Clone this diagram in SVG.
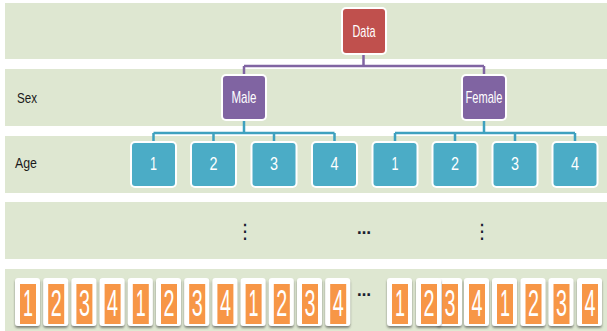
<svg xmlns="http://www.w3.org/2000/svg" width="607" height="331" viewBox="0 0 607 331">
<defs>
<style>
.band{fill:#DEE7D1}
.rowlbl{font-family:"Liberation Sans",Arial,sans-serif;font-size:14px;fill:#1a1a1a}
.lbl{font-family:"Liberation Sans",Arial,sans-serif;fill:#ffffff;text-anchor:middle}
.frame{fill:#ffffff}
.red{fill:#C0504D}
.purple{fill:#8064A2}
.teal{fill:#4BACC6}
.orange{fill:#F79646}
.conP{stroke:#8064A2;stroke-width:2.5;fill:none}
.conT{stroke:#3FA1BF;stroke-width:2.5;fill:none}
.dots{font-family:"DejaVu Sans","Liberation Sans",sans-serif;fill:#1a2030;text-anchor:middle}
.tnum{font-family:"Liberation Sans",Arial,sans-serif;font-size:36px;fill:#ffffff;text-anchor:middle}
</style>
<filter id="sh" x="-30%" y="-20%" width="160%" height="150%">
<feDropShadow dx="0" dy="2" stdDeviation="1" flood-color="#404040" flood-opacity="0.6"/>
</filter>
<g id="tile">
<rect x="0" y="0" width="25" height="48" rx="3" class="frame" filter="url(#sh)"/>
<rect x="5" y="6" width="16" height="40" class="orange"/>
</g>
</defs>

<g id="bands">
<rect class="band" x="5" y="3" width="602" height="56"/>
<rect class="band" x="5" y="69" width="602" height="57"/>
<rect class="band" x="5" y="136" width="602" height="57"/>
<rect class="band" x="5" y="202" width="602" height="57"/>
<rect class="band" x="5" y="269" width="602" height="62"/>
</g>

<g id="row-labels">
<text class="rowlbl" x="17" y="103" textLength="20" lengthAdjust="spacingAndGlyphs">Sex</text>
<text class="rowlbl" x="15" y="168" textLength="22" lengthAdjust="spacingAndGlyphs">Age</text>
</g>

<g id="connectors">
<path class="conP" d="M363.5,53V66M244,66H484M244,66V76M484,66V76"/>
<path class="conT" d="M244,119V133M153.5,133H334.5M153.5,133V141M213.5,133V141M274,133V141M334.5,133V141"/>
<path class="conT" d="M484,119V133M395,133H575M395,133V141M455,133V141M515,133V141M575,133V141"/>
</g>

<g id="node-data">
<rect class="frame" x="341" y="7" width="46" height="48" rx="5"/>
<rect class="red" x="343" y="9" width="42" height="44" rx="3"/>
<text class="lbl" x="364" y="37" font-size="17" textLength="23" lengthAdjust="spacingAndGlyphs">Data</text>
</g>
<g id="node-male">
<rect class="frame" x="221" y="74" width="46" height="47" rx="5"/>
<rect class="purple" x="223" y="76" width="42" height="43" rx="3"/>
<text class="lbl" x="244" y="103" font-size="17" textLength="25" lengthAdjust="spacingAndGlyphs">Male</text>
</g>
<g id="node-female">
<rect class="frame" x="461" y="74" width="46" height="47" rx="5"/>
<rect class="purple" x="463" y="76" width="42" height="43" rx="3"/>
<text class="lbl" x="484" y="103" font-size="17" textLength="37" lengthAdjust="spacingAndGlyphs">Female</text>
</g>

<g id="node-male-age1"><rect class="frame" x="130" y="141" width="47" height="47" rx="5"/><rect class="teal" x="132" y="143" width="43" height="43" rx="3"/><text class="lbl" x="153.5" y="170" font-size="18" textLength="7" lengthAdjust="spacingAndGlyphs">1</text></g>
<g id="node-male-age2"><rect class="frame" x="190" y="141" width="47" height="47" rx="5"/><rect class="teal" x="192" y="143" width="43" height="43" rx="3"/><text class="lbl" x="213.5" y="170" font-size="18" textLength="8" lengthAdjust="spacingAndGlyphs">2</text></g>
<g id="node-male-age3"><rect class="frame" x="250.5" y="141" width="47" height="47" rx="5"/><rect class="teal" x="252.5" y="143" width="43" height="43" rx="3"/><text class="lbl" x="274" y="170" font-size="18" textLength="8" lengthAdjust="spacingAndGlyphs">3</text></g>
<g id="node-male-age4"><rect class="frame" x="311" y="141" width="47" height="47" rx="5"/><rect class="teal" x="313" y="143" width="43" height="43" rx="3"/><text class="lbl" x="334.5" y="170" font-size="18" textLength="8" lengthAdjust="spacingAndGlyphs">4</text></g>
<g id="node-female-age1"><rect class="frame" x="371.5" y="141" width="47" height="47" rx="5"/><rect class="teal" x="373.5" y="143" width="43" height="43" rx="3"/><text class="lbl" x="395" y="170" font-size="18" textLength="7" lengthAdjust="spacingAndGlyphs">1</text></g>
<g id="node-female-age2"><rect class="frame" x="431.5" y="141" width="47" height="47" rx="5"/><rect class="teal" x="433.5" y="143" width="43" height="43" rx="3"/><text class="lbl" x="455" y="170" font-size="18" textLength="8" lengthAdjust="spacingAndGlyphs">2</text></g>
<g id="node-female-age3"><rect class="frame" x="491.5" y="141" width="47" height="47" rx="5"/><rect class="teal" x="493.5" y="143" width="43" height="43" rx="3"/><text class="lbl" x="515" y="170" font-size="18" textLength="8" lengthAdjust="spacingAndGlyphs">3</text></g>
<g id="node-female-age4"><rect class="frame" x="551.5" y="141" width="47" height="47" rx="5"/><rect class="teal" x="553.5" y="143" width="43" height="43" rx="3"/><text class="lbl" x="575" y="170" font-size="18" textLength="8" lengthAdjust="spacingAndGlyphs">4</text></g>

<g id="ellipses">
<text class="dots" x="245" y="238" font-size="20">⋮</text>
<text class="dots" x="364" y="234" font-size="14" font-weight="bold">…</text>
<text class="dots" x="482" y="238" font-size="20">⋮</text>
<text class="dots" x="364" y="296" font-size="14" font-weight="bold">…</text>
</g>

<g id="tiles">
<g id="t1"><use href="#tile" x="15" y="278"/><text class="tnum" x="28" y="316" textLength="10" lengthAdjust="spacingAndGlyphs">1</text></g>
<g id="t2"><use href="#tile" x="43.2" y="278"/><text class="tnum" x="56.2" y="316" textLength="11" lengthAdjust="spacingAndGlyphs">2</text></g>
<g id="t3"><use href="#tile" x="71.4" y="278"/><text class="tnum" x="84.4" y="316" textLength="11" lengthAdjust="spacingAndGlyphs">3</text></g>
<g id="t4"><use href="#tile" x="99.6" y="278"/><text class="tnum" x="112.6" y="316" textLength="11" lengthAdjust="spacingAndGlyphs">4</text></g>
<g id="t5"><use href="#tile" x="127.8" y="278"/><text class="tnum" x="140.8" y="316" textLength="10" lengthAdjust="spacingAndGlyphs">1</text></g>
<g id="t6"><use href="#tile" x="156" y="278"/><text class="tnum" x="169" y="316" textLength="11" lengthAdjust="spacingAndGlyphs">2</text></g>
<g id="t7"><use href="#tile" x="184.2" y="278"/><text class="tnum" x="197.2" y="316" textLength="11" lengthAdjust="spacingAndGlyphs">3</text></g>
<g id="t8"><use href="#tile" x="212.4" y="278"/><text class="tnum" x="225.4" y="316" textLength="11" lengthAdjust="spacingAndGlyphs">4</text></g>
<g id="t9"><use href="#tile" x="240.6" y="278"/><text class="tnum" x="253.6" y="316" textLength="10" lengthAdjust="spacingAndGlyphs">1</text></g>
<g id="t10"><use href="#tile" x="268.8" y="278"/><text class="tnum" x="281.8" y="316" textLength="11" lengthAdjust="spacingAndGlyphs">2</text></g>
<g id="t11"><use href="#tile" x="297" y="278"/><text class="tnum" x="310" y="316" textLength="11" lengthAdjust="spacingAndGlyphs">3</text></g>
<g id="t12"><use href="#tile" x="325.2" y="278"/><text class="tnum" x="338.2" y="316" textLength="11" lengthAdjust="spacingAndGlyphs">4</text></g>
<g id="t15"><use href="#tile" x="437" y="278"/><text class="tnum" x="450" y="316" textLength="11" lengthAdjust="spacingAndGlyphs">3</text></g>
<g id="t13"><use href="#tile" x="387" y="278"/><text class="tnum" x="400" y="316" textLength="10" lengthAdjust="spacingAndGlyphs">1</text></g>
<g id="t14"><use href="#tile" x="416" y="278"/><text class="tnum" x="429" y="316" textLength="11" lengthAdjust="spacingAndGlyphs">2</text></g>
<g id="t16"><use href="#tile" x="464" y="278"/><text class="tnum" x="477" y="316" textLength="11" lengthAdjust="spacingAndGlyphs">4</text></g>
<g id="t17"><use href="#tile" x="492" y="278"/><text class="tnum" x="505" y="316" textLength="10" lengthAdjust="spacingAndGlyphs">1</text></g>
<g id="t18"><use href="#tile" x="520.5" y="278"/><text class="tnum" x="533.5" y="316" textLength="11" lengthAdjust="spacingAndGlyphs">2</text></g>
<g id="t19"><use href="#tile" x="548.5" y="278"/><text class="tnum" x="561.5" y="316" textLength="11" lengthAdjust="spacingAndGlyphs">3</text></g>
<g id="t20"><use href="#tile" x="577" y="278"/><text class="tnum" x="590" y="316" textLength="11" lengthAdjust="spacingAndGlyphs">4</text></g>
</g>
</svg>
